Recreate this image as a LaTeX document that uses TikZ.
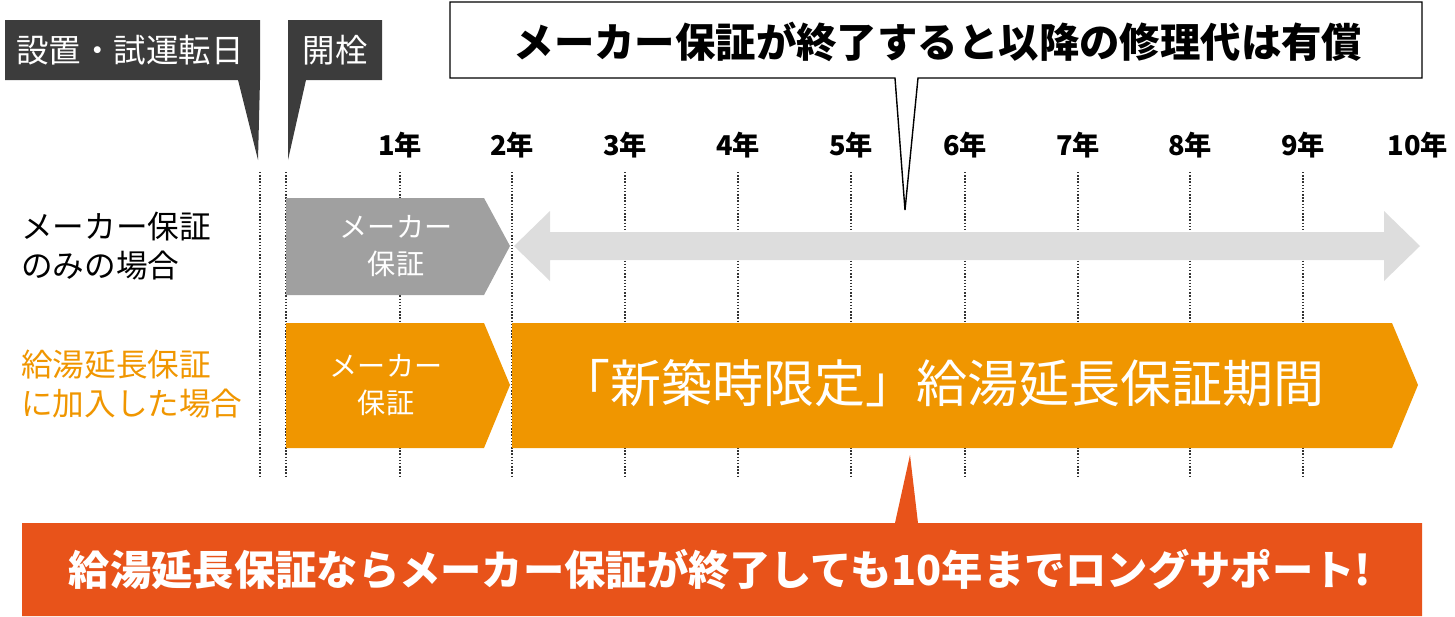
\documentclass[tikz,border=0pt]{standalone}
\usepackage{fontspec}
\newfontfamily\jp{Noto Sans CJK JP}
\usetikzlibrary{positioning,calc}
\definecolor{darkbox}{RGB}{60,60,60}
\definecolor{mgray}{RGB}{160,160,160}
\definecolor{lgray}{RGB}{221,221,221}
\definecolor{hoshou}{RGB}{240,150,0}
\definecolor{support}{RGB}{232,83,26}
\tikzset{
  daylbl/.style={text=white, font=\jp\fontsize{18.5}{20}\selectfont},
  yearlbl/.style={font=\jp\bfseries\fontsize{15.5}{17}\selectfont},
  rowlbl/.style={align=left, anchor=west, font=\jp\fontsize{18}{22}\selectfont},
  inlbl/.style={text=white, align=center, font=\jp\fontsize{16}{21}\selectfont},
  guide/.style={densely dotted, thick, black!80}
}
\begin{document}
\begin{tikzpicture}[x=0.02cm,y=-0.02cm]
\useasboundingbox (0,0) rectangle (1455,616);

% guide lines
\foreach \gx in {260,286,400,512,625,738,851,965,1078,1190,1303}
  \draw[guide] (\gx,172) -- (\gx,478);

% year labels
\foreach \n/\gx in {1/400,2/512,3/625,4/738,5/851,6/965,7/1078,8/1190,9/1303,10/1418}
  \node[yearlbl] (y\n) at (\gx,145) {\n 年};

% start callouts
\fill[darkbox] (5,20) -- (260,20) -- (260,80) -- (258,160) -- (238,80) -- (5,80) -- cycle;
\node[daylbl] (setup) at (130,50) {設置・試運転日};
\fill[darkbox] (288,20) -- (382,20) -- (382,80) -- (306,80) -- (288,160) -- cycle;
\node[daylbl] (open) at (335,50) {開栓};

% top callout
\draw[thick, fill=white] (450,2) -- (1422,2) -- (1422,78) -- (918,78) -- (905,210) -- (895,78) -- (450,78) -- cycle;
\node[font=\jp\bfseries\fontsize{23}{26}\selectfont] (paid) at (938,42) {メーカー保証が終了すると以降の修理代は有償};

% row labels
\node[rowlbl] (rowa) at (15,246) {メーカー保証\\のみの場合};
\node[rowlbl, text=hoshou] (rowb) at (15,384) {給湯延長保証\\に加入した場合};

% maker only row
\fill[mgray] (286,198) -- (484,198) -- (510,246) -- (484,295) -- (286,295) -- cycle;
\node[inlbl] (mk1) at (396,246) {メーカー\\保証};
\fill[lgray] (514,246) -- (550,211) -- (550,232) -- (1384,232) -- (1384,211) -- (1420,246)
  -- (1384,281) -- (1384,260) -- (550,260) -- (550,281) -- cycle;

% extended row
\fill[hoshou] (286,323) -- (484,323) -- (510,385) -- (484,448) -- (286,448) -- cycle;
\node[inlbl] (mk2) at (386,385) {メーカー\\保証};
\fill[hoshou] (512,323) -- (1392,323) -- (1418,385) -- (1392,448) -- (512,448) -- cycle;
\node[text=white, font=\jp\fontsize{29}{32}\selectfont] (ext) at (942,383) {「新築時限定」給湯延長保証期間};

% bottom message
\fill[support] (22,523) -- (895,523) -- (910,455) -- (918,523) -- (1422,523) -- (1422,616) -- (22,616) -- cycle;
\node[text=white, font=\jp\bfseries\fontsize{23.5}{26}\selectfont] (msg) at (720,570) {給湯延長保証ならメーカー保証が終了しても10年までロングサポート!};
\end{tikzpicture}
\end{document}
